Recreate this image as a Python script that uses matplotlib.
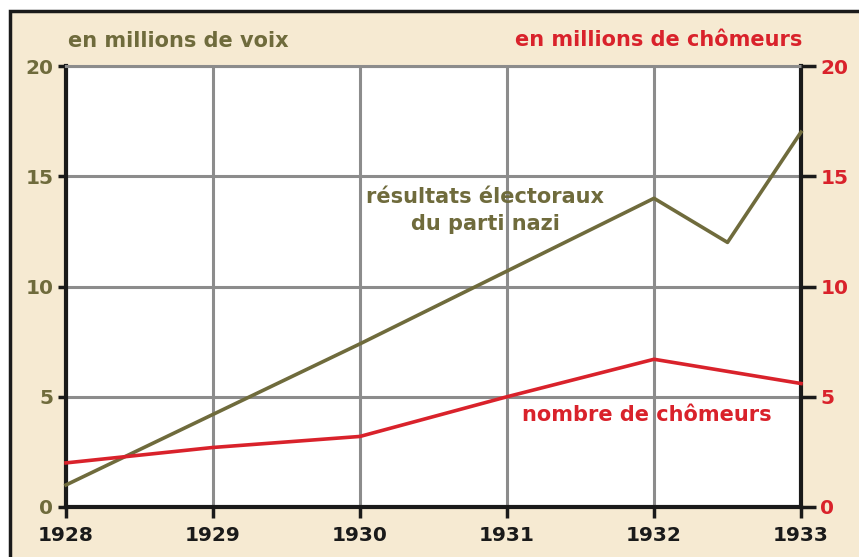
import matplotlib
matplotlib.use("Agg")
import matplotlib.pyplot as plt
from matplotlib.patches import Rectangle

years = [1928, 1929, 1930, 1931, 1932, 1933]
year_labels = ["1928", "1929", "1930", "1931", "1932", "1933"]
yticks = [0, 5, 10, 15, 20]

nazi_x = [1928, 1930, 1932, 1932.5, 1933]
nazi_votes = [1.0, 7.4, 14.0, 12.0, 17.0]

unemp_x = [1928, 1929, 1930, 1931, 1932, 1933]
unemployed = [2.0, 2.7, 3.2, 5.0, 6.7, 5.6]

OLIVE = "#6f6b3c"
RED = "#d9222b"
GRID = "#8c8c8c"
BG = "#f6ead2"
FONT = "DejaVu Sans"
FS = 15

W, H = 859, 557
fig = plt.figure(figsize=(W / 100, H / 100), dpi=100, facecolor="white")
fig.patches.append(Rectangle((10 / W, -0.1), 1.1, (H - 11) / H + 0.1,
                             transform=fig.transFigure, facecolor=BG,
                             edgecolor="#1a1a1a", linewidth=2.5, zorder=-10))

ax = fig.add_axes([66 / W, (H - 507) / H, (801 - 66) / W, (507 - 66) / H])
ax.set_facecolor("white")
ax.set_xlim(1928, 1933)
ax.set_ylim(0, 20)

ax.set_xticks(years)
ax.set_xticklabels(year_labels, fontsize=14.5, color="#1a1a1a", fontweight="bold", family=FONT)
ax.set_yticks(yticks)
ax.set_yticklabels([str(v) for v in yticks], fontsize=14.5, color=OLIVE, fontweight="bold", family=FONT)
ax.grid(True, color=GRID, linewidth=2.2, zorder=1)
ax.set_axisbelow(True)

for s in ["left", "bottom", "right"]:
    ax.spines[s].set_color("#1a1a1a")
    ax.spines[s].set_linewidth(3)
ax.spines["top"].set_color(GRID)
ax.spines["top"].set_linewidth(2.2)
ax.tick_params(axis="x", length=8, width=2.5, color="#1a1a1a", pad=6)
ax.tick_params(axis="y", length=6, width=2.5, color="#1a1a1a", pad=3)

ax2 = ax.twinx()
ax2.set_ylim(0, 20)
ax2.set_yticks(yticks)
ax2.set_yticklabels([str(v) for v in yticks], fontsize=14.5, color=RED, fontweight="bold", family=FONT)
ax2.tick_params(axis="y", length=11, width=2.5, color="#1a1a1a", pad=3)
for s in ax2.spines.values():
    s.set_visible(False)

ax.plot(nazi_x, nazi_votes, color=OLIVE, linewidth=2.6, zorder=3, clip_on=False)
ax.plot(unemp_x, unemployed, color=RED, linewidth=2.6, zorder=3, clip_on=False)

ax.text(1930.85, 13.45, "résultats électoraux\ndu parti nazi", color=OLIVE, fontsize=FS,
        fontweight="bold", ha="center", va="center", linespacing=1.45, family=FONT, zorder=4)
ax.text(1931.95, 4.17, "nombre de chômeurs", color=RED, fontsize=FS, fontweight="bold",
        ha="center", va="center", family=FONT, zorder=4)

fig.text(68 / W, 1 - 41 / H, "en millions de voix", color=OLIVE, fontsize=FS,
         fontweight="bold", ha="left", va="center", family=FONT)
fig.text(802 / W, 1 - 40 / H, "en millions de chômeurs", color=RED, fontsize=FS,
         fontweight="bold", ha="right", va="center", family=FONT)

fig.savefig("out.png", dpi=100, facecolor="white")
